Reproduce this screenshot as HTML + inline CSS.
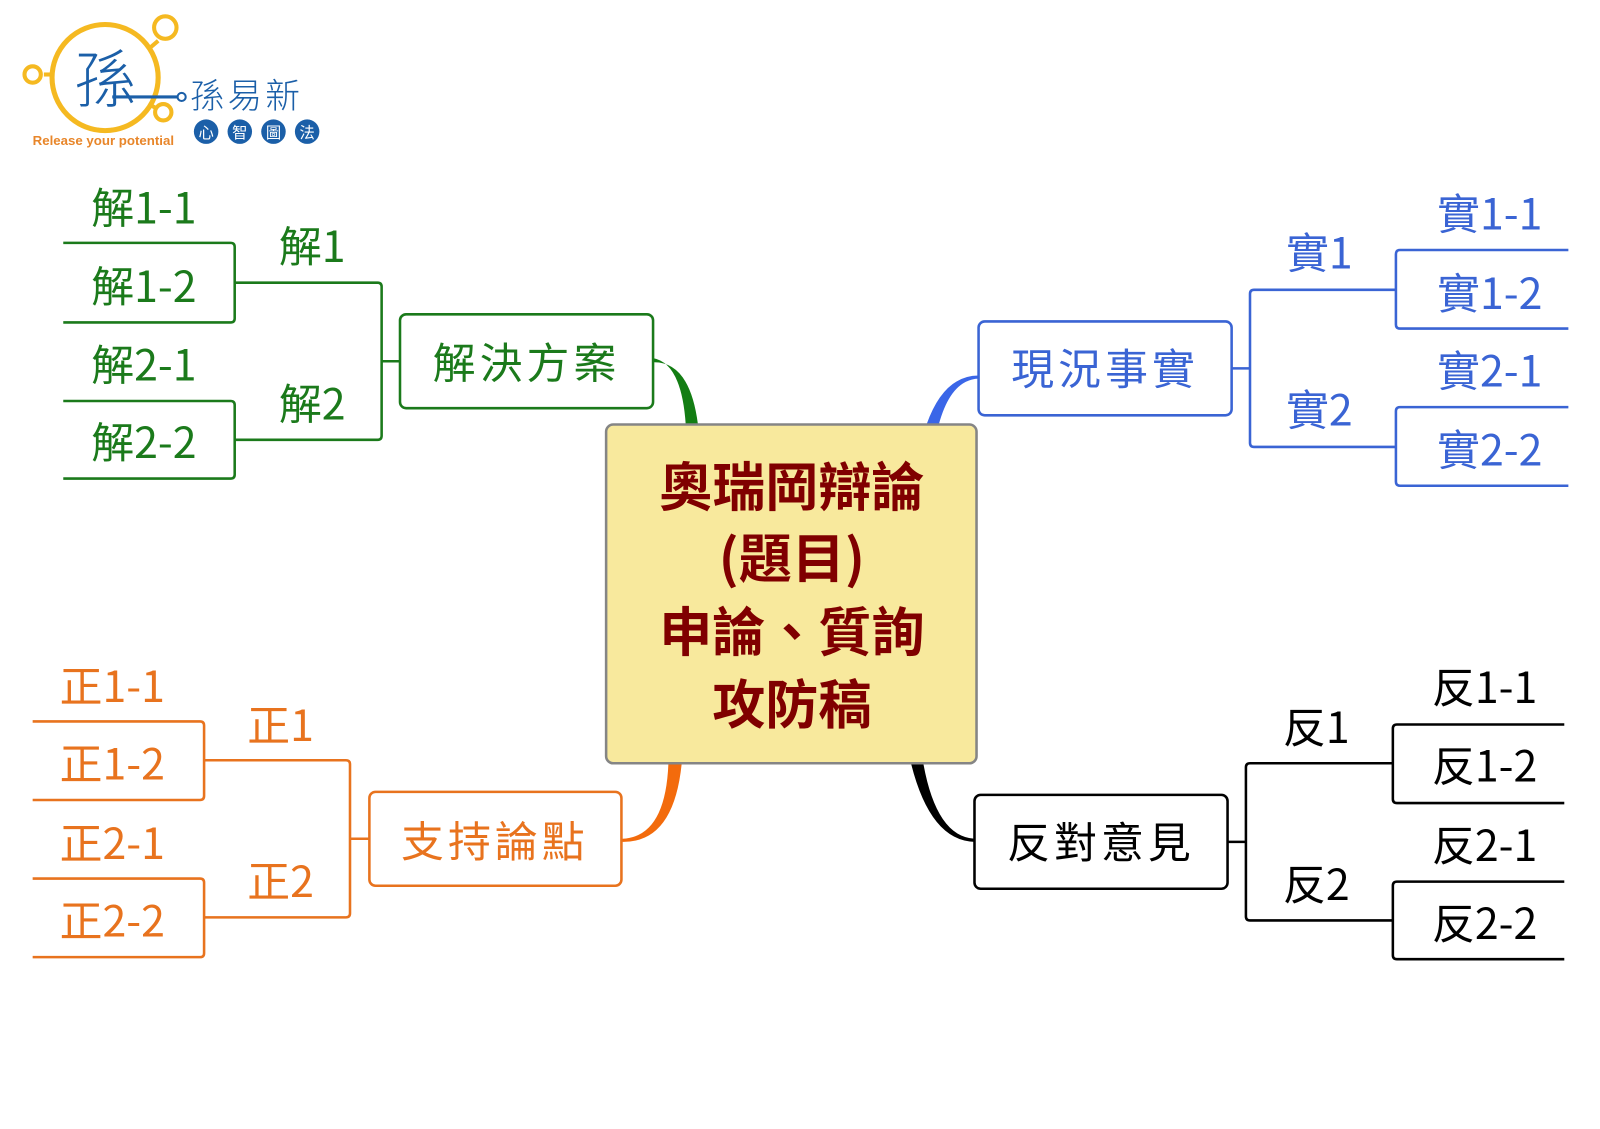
<!DOCTYPE html>
<html><head><meta charset="utf-8"><style>
html,body{margin:0;padding:0;background:#fff;width:1600px;height:1129px;overflow:hidden}
svg text{font-family:"Noto Sans CJK TC","Liberation Sans",sans-serif}
</style></head><body>
<svg width="1600" height="1129" viewBox="0 0 1568 1106.4" xmlns="http://www.w3.org/2000/svg">
<!-- logo -->
<g>
<circle cx="103" cy="76" r="52" fill="none" stroke="#f5b921" stroke-width="5"/>
<line x1="155" y1="40" x2="148" y2="46" stroke="#f5b921" stroke-width="4"/>
<circle cx="162" cy="27" r="11" fill="none" stroke="#f5b921" stroke-width="4"/>
<line x1="43" y1="73" x2="51" y2="73" stroke="#f5b921" stroke-width="4"/>
<circle cx="32" cy="73" r="8" fill="none" stroke="#f5b921" stroke-width="4"/>
<circle cx="160" cy="110" r="8" fill="none" stroke="#f5b921" stroke-width="4"/>
<line x1="146" y1="102" x2="153" y2="106" stroke="#f5b921" stroke-width="4"/>
<text x="103" y="100" text-anchor="middle" font-size="62" fill="#1b5fa8" font-weight="300">孫</text>
<line x1="110" y1="95" x2="175" y2="95" stroke="#1b5fa8" stroke-width="3"/>
<circle cx="178" cy="95" r="4" fill="none" stroke="#1b5fa8" stroke-width="2"/>
<text x="186" y="106" font-size="34" fill="#1b5fa8" letter-spacing="3" font-weight="300">孫易新</text>
<text x="32" y="142" font-size="13" font-weight="bold" fill="#e8862a" style="font-family:'Liberation Sans',sans-serif">Release your potential</text>
<g fill="#1b5fa8"><circle cx="202" cy="129" r="12"/><circle cx="235" cy="129" r="12"/><circle cx="268" cy="129" r="12"/><circle cx="301" cy="129" r="12"/></g>
<g fill="#fff" font-size="15" text-anchor="middle"><text x="202" y="135">心</text><text x="235" y="135">智</text><text x="268" y="135">圖</text><text x="301" y="135">法</text></g>
</g>

<!-- connectors -->
<path d="M640,351 Q668,356 672,416 L684,416 Q676,354 640,355 Z" fill="#137d13"/>
<path d="M959,368 Q925,368 908,416 L920,416 Q932,372 959,371 Z" fill="#3a66e8"/>
<path d="M610,822 Q652,820 655,749 L668,749 Q660,826 610,825 Z" fill="#f36b0c"/>
<path d="M955,825 Q912,824 893,749 L905,749 Q918,820 955,822 Z" fill="#000"/>

<!-- central -->
<rect x="594" y="416" width="363" height="332" rx="7" fill="#f8e99d" stroke="#858585" stroke-width="2.5"/>
<g font-size="52" font-weight="bold" fill="#800000" text-anchor="middle">
<text x="776" y="496">奧瑞岡辯論</text>
<text x="776" y="566">(題目)</text>
<text x="776" y="638">申論、質詢</text>
<text x="776" y="709">攻防稿</text>
</g>

<!-- green -->
<g fill="none" stroke="#1b7a1b" stroke-width="2.5">
<rect x="392" y="308" width="248" height="92" rx="6"/>
<path d="M392,354 H374 M230,277 H370 Q374,277 374,281 V427 Q374,431 370,431 H230"/>
<path d="M62,238 H226 Q230,238 230,242 V312 Q230,316 226,316 H62"/>
<path d="M62,393 H226 Q230,393 230,397 V465 Q230,469 226,469 H62"/>
</g>
<g fill="#1b7a1b" font-size="42" text-anchor="middle">
<text x="516" y="371" letter-spacing="4">解決方案</text>
<text x="306" y="257">解1</text><text x="306" y="411">解2</text>
<text x="141" y="219">解1-1</text><text x="141" y="296">解1-2</text>
<text x="141" y="373">解2-1</text><text x="141" y="449">解2-2</text>
</g>

<!-- blue -->
<g fill="none" stroke="#3a64d4" stroke-width="2.5">
<rect x="959" y="315" width="248" height="92" rx="6"/>
<path d="M1207,361 H1225 M1368,284 H1229 Q1225,284 1225,288 V434 Q1225,438 1229,438 H1368"/>
<path d="M1537,245 H1372 Q1368,245 1368,249 V318 Q1368,322 1372,322 H1537"/>
<path d="M1537,399 H1372 Q1368,399 1368,403 V472 Q1368,476 1372,476 H1537"/>
</g>
<g fill="#3a64d4" font-size="42" text-anchor="middle">
<text x="1083" y="377" letter-spacing="4">現況事實</text>
<text x="1293" y="263">實1</text><text x="1293" y="417">實2</text>
<text x="1460" y="225">實1-1</text><text x="1460" y="303">實1-2</text>
<text x="1460" y="379">實2-1</text><text x="1460" y="456">實2-2</text>
</g>

<!-- orange -->
<g fill="none" stroke="#e8731e" stroke-width="2.5">
<rect x="362" y="776" width="247" height="92" rx="6"/>
<path d="M362,822 H343 M200,745 H339 Q343,745 343,749 V895 Q343,899 339,899 H200"/>
<path d="M32,707 H196 Q200,707 200,711 V780 Q200,784 196,784 H32"/>
<path d="M32,861 H196 Q200,861 200,865 V934 Q200,938 196,938 H32"/>
</g>
<g fill="#e8731e" font-size="42" text-anchor="middle">
<text x="485" y="840" letter-spacing="4">支持論點</text>
<text x="275" y="726">正1</text><text x="275" y="879">正2</text>
<text x="110" y="688">正1-1</text><text x="110" y="764">正1-2</text>
<text x="110" y="842">正2-1</text><text x="110" y="918">正2-2</text>
</g>

<!-- black -->
<g fill="none" stroke="#000" stroke-width="2.5">
<rect x="955" y="779" width="248" height="92" rx="6"/>
<path d="M1203,825 H1221 M1365,748 H1225 Q1221,748 1221,752 V898 Q1221,902 1225,902 H1365"/>
<path d="M1533,710 H1369 Q1365,710 1365,714 V783 Q1365,787 1369,787 H1533"/>
<path d="M1533,864 H1369 Q1365,864 1365,868 V936 Q1365,940 1369,940 H1533"/>
</g>
<g fill="#000" font-size="42" text-anchor="middle">
<text x="1079" y="841" letter-spacing="4">反對意見</text>
<text x="1290" y="728">反1</text><text x="1290" y="882">反2</text>
<text x="1455" y="689">反1-1</text><text x="1455" y="766">反1-2</text>
<text x="1455" y="844">反2-1</text><text x="1455" y="920">反2-2</text>
</g>
</svg>
</body></html>
